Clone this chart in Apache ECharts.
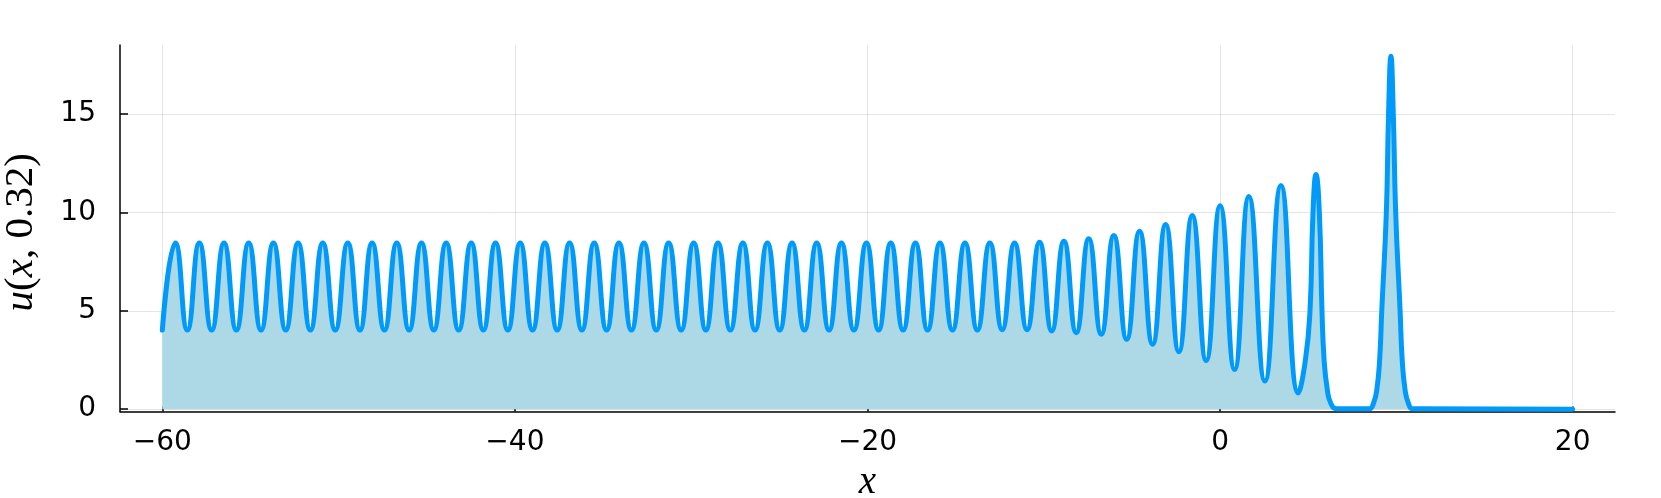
<!DOCTYPE html>
<html><head><meta charset="utf-8">
<script src="https://cdn.jsdelivr.net/npm/echarts/dist/echarts.min.js"></script>
<style>html,body{margin:0;padding:0;background:#fff;} #c{width:1661px;height:498px;}</style>
</head><body><div id="c"></div>
<script>
// tick values
const xTicks = [-60, -40, -20, 0, 20];
const yTicks = [0, 5, 10, 15];

// curve: start/end, crests, troughs, and extra flank points of the last waves
const startPoint = [-60, 4.02];
const endPoint = [20, 0];

const peakX = [-59.26, -57.90, -56.50, -55.10, -53.70, -52.30, -50.90, -49.48, -48.10, -46.70,
  -45.30, -43.90, -42.48, -41.10, -39.70, -38.30, -36.90, -35.50, -34.10, -32.68,
  -31.28, -29.86, -28.48, -27.07, -25.68, -24.28, -22.88, -21.48, -20.06, -18.68,
  -17.28, -15.89, -14.47, -13.06, -11.66, -10.24, -8.86, -7.45, -6.03, -4.57,
  -3.09, -1.58, 0.00, 1.63, 3.45, 5.44, 9.69];
const peakY = [8.45, 8.45, 8.45, 8.45, 8.45, 8.45, 8.45, 8.45, 8.45, 8.45,
  8.45, 8.45, 8.45, 8.45, 8.45, 8.45, 8.45, 8.45, 8.45, 8.45,
  8.45, 8.45, 8.45, 8.45, 8.45, 8.45, 8.45, 8.45, 8.45, 8.45,
  8.45, 8.45, 8.45, 8.45, 8.45, 8.49, 8.54, 8.66, 8.83, 9.05,
  9.39, 9.85, 10.34, 10.82, 11.37, 11.93, 17.95];

const troughX = [-58.58, -57.20, -55.80, -54.40, -53.00, -51.60, -50.19, -48.79, -47.40, -46.00,
  -44.60, -43.19, -41.79, -40.40, -39.00, -37.60, -36.20, -34.80, -33.39, -31.98,
  -30.57, -29.17, -27.78, -26.38, -24.98, -23.58, -22.18, -20.77, -19.37, -17.98,
  -16.59, -15.18, -13.77, -12.36, -10.95, -9.55, -8.16, -6.74, -5.30, -3.83,
  -2.34, -0.79, 0.82, 2.54, 4.44];
const troughY = [4.02, 4.02, 4.02, 4.02, 4.02, 4.02, 4.02, 4.02, 4.02, 4.02,
  4.02, 4.02, 4.02, 4.02, 4.02, 4.02, 4.02, 4.02, 4.02, 4.02,
  4.02, 4.02, 4.02, 4.02, 4.02, 4.02, 4.02, 4.02, 4.02, 4.02,
  4.02, 4.02, 4.02, 4.04, 4.04, 3.98, 3.89, 3.81, 3.55, 3.30,
  2.92, 2.47, 2.01, 1.43, 0.82];

const flankX = [4.84, 5.10, 5.27, 5.63, 5.78, 5.90, 6.08, 6.28, 6.62,
  8.45, 8.70, 8.89, 9.05, 9.17, 9.43, 9.555, 9.825, 9.96, 10.21, 10.33, 10.49, 10.68, 10.93];
const flankY = [2.5, 5.0, 10.0, 10.0, 5.0, 2.5, 1.0, 0.3, 0.02,
  0.02, 0.3, 1.0, 2.5, 5.0, 10.0, 15.0, 15.0, 10.0, 5.0, 2.5, 1.0, 0.3, 0.02];

const pts = [startPoint, endPoint];
peakX.forEach((x, i) => pts.push([x, peakY[i]]));
troughX.forEach((x, i) => pts.push([x, troughY[i]]));
flankX.forEach((x, i) => pts.push([x, flankY[i]]));
pts.sort((a, b) => a[0] - b[0]);

const minus = v => (v < 0 ? '\u2212' + Math.abs(v) : String(v));

const chart = echarts.init(document.getElementById('c'), null, { renderer: 'canvas' });
chart.setOption({
  animation: false,
  backgroundColor: '#ffffff',
  grid: { left: 120, right: 46, top: 45, bottom: 86.5, containLabel: false, outerBoundsMode: 'none' },
  xAxis: {
    type: 'value', min: -62.4, max: 22.4,
    axisLine: { onZero: false, lineStyle: { color: '#000', width: 1.5 } },
    axisTick: { inside: true, length: 5, customValues: xTicks, lineStyle: { color: '#000', width: 1.5 } },
    axisLabel: { customValues: xTicks, formatter: minus, fontFamily: 'DejaVu Sans', fontSize: 28, color: '#000', margin: 17 },
    splitLine: { show: true, lineStyle: { color: 'rgba(0,0,0,0.1)', width: 1 } },
    name: '{i|x}', nameLocation: 'middle', nameGap: 52,
    nameTextStyle: { rich: { i: { fontFamily: 'Liberation Serif', fontStyle: 'italic', fontSize: 39, color: '#000' } } }
  },
  yAxis: {
    type: 'value', min: -0.12, max: 18.52,
    axisLine: { show: true, onZero: false, lineStyle: { color: '#000', width: 1.5 } },
    axisTick: { show: true, inside: true, length: 8, customValues: yTicks, lineStyle: { color: '#000', width: 1.5 } },
    axisLabel: { customValues: yTicks, formatter: minus, fontFamily: 'DejaVu Sans', fontSize: 28, color: '#000', margin: 24 },
    splitLine: { show: true, lineStyle: { color: 'rgba(0,0,0,0.1)', width: 1 } },
    name: '{i|u}{r|(}{i|x}{r|, 0.32)}', nameLocation: 'middle', nameGap: 78, nameRotate: 90,
    nameTextStyle: { padding: [0, 8, 0, 0], rich: {
      i: { fontFamily: 'Liberation Serif', fontStyle: 'italic', fontSize: 41, color: '#000' },
      r: { fontFamily: 'Liberation Serif', fontSize: 41, color: '#000' }
    } }
  },
  series: [{
    type: 'line', data: pts, showSymbol: false, smooth: 0.5,
    lineStyle: { color: '#009AFA', width: 5, cap: 'round', join: 'round' },
    areaStyle: { color: '#ADD8E6', opacity: 1 },
    clip: true
  }]
});
</script>
</body></html>
